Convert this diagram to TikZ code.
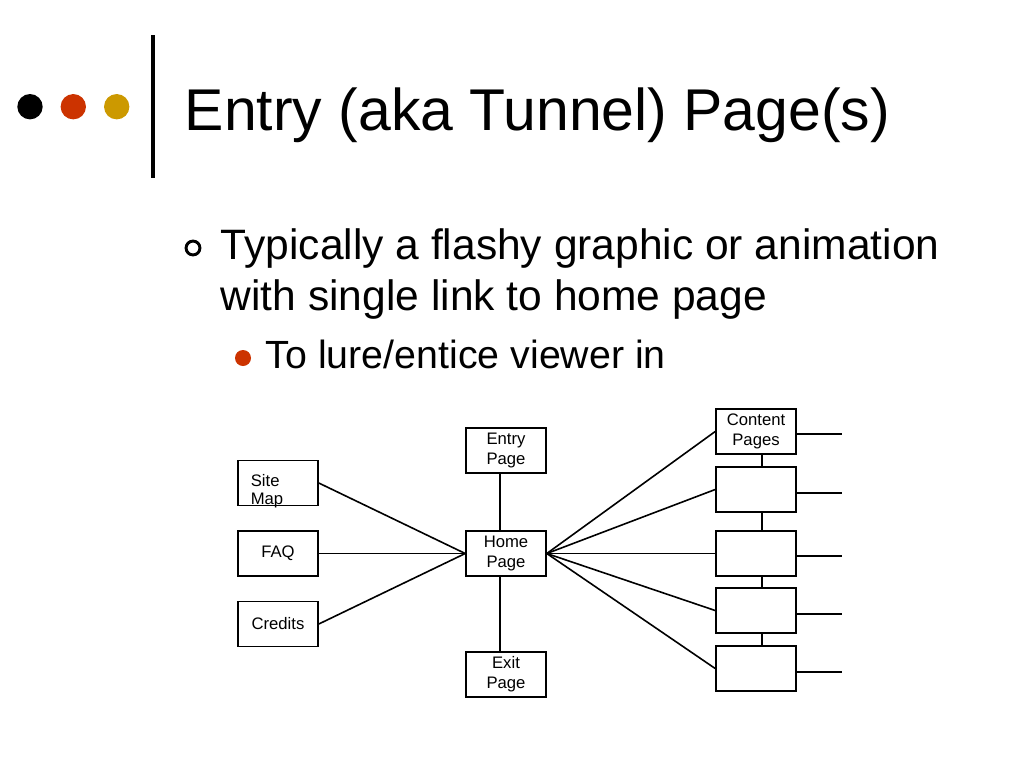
\documentclass[tikz,border=0pt]{standalone}
\usepackage{fontspec}
\setmainfont{Liberation Sans}
\usepackage{tikz}
\usepackage{xcolor}
\definecolor{dotred}{HTML}{CC3300}
\definecolor{dotgold}{HTML}{CC9900}

\begin{document}
\begin{tikzpicture}[x=0.75pt,y=-0.75pt,line width=1.2pt,
	pagebox/.style={rectangle,draw,minimum width=60pt,minimum height=33.75pt,inner sep=0pt,align=center,font=\fontsize{12.5}{15}\selectfont},
	boxtext/.style={inner sep=0pt,align=left,font=\fontsize{12.5}{13.5}\selectfont}]
	\useasboundingbox (0,0) rectangle (1024,768);
	\fill (30,106.7) circle (9.5pt);
	\fill [dotred] (73.3,106.7) circle (9.5pt);
	\fill [dotgold] (116.7,106.7) circle (9.5pt);
	\draw [line width=3pt] (153,35) -- (153,178);
	\node (title) at (184,130) [anchor=base west,inner sep=0pt,font=\fontsize{44.2}{52}\selectfont] {Entry (aka Tunnel) Page(s)};
	\draw [line width=2.2pt] (193,248) circle (5.2pt);
	\node (point) at (220,310) [anchor=base west,inner sep=0pt,align=left,font=\fontsize{31.9}{38.25}\selectfont] {Typically a flashy graphic or animation\\with single link to home page};
	\fill [dotred] (243,358) circle (6pt);
	\node (subpoint) at (265,368) [anchor=base west,inner sep=0pt,font=\fontsize{29.5}{34}\selectfont] {To lure/entice viewer in};
	\node (sitemap) at (278,483) [pagebox] {};
	\node (sitetext) at (250,504) [boxtext,anchor=base west] {Site\\Map};
	\node (faq) at (278,553.5) [pagebox] {FAQ};
	\node (credits) at (278,624) [pagebox] {Credits};
	\node (entry) at (506,450.5) [pagebox] {Entry\\Page};
	\node (home) at (506,553.5) [pagebox] {Home\\Page};
	\node (exitpg) at (506,674.5) [pagebox] {Exit\\Page};
	\node (content) at (756,431.5) [pagebox] {Content\\Pages};
	\node (cp2) at (756,489.5) [pagebox] {};
	\node (cp3) at (756,553.5) [pagebox] {};
	\node (cp4) at (756,610.5) [pagebox] {};
	\node (cp5) at (756,668.5) [pagebox] {};
	\coordinate (s1) at (842,434);
	\coordinate (s2) at (842,493);
	\coordinate (s3) at (842,556);
	\coordinate (s4) at (842,614);
	\coordinate (s5) at (842,672);
	\draw (sitemap.east) -- (home.west);
	\draw (faq.east) -- (home.west);
	\draw (credits.east) -- (home.west);
	\draw ([xshift=-4.5pt]entry.south) -- ([xshift=-4.5pt]home.north);
	\draw ([xshift=-4.5pt]home.south) -- ([xshift=-4.5pt]exitpg.north);
	\draw (home.east) -- (content.west);
	\draw (home.east) -- (cp2.west);
	\draw (home.east) -- (cp3.west);
	\draw (home.east) -- (cp4.west);
	\draw (home.east) -- (cp5.west);
	\draw ([xshift=4.5pt]content.south) -- ([xshift=4.5pt]cp2.north);
	\draw ([xshift=4.5pt]cp2.south) -- ([xshift=4.5pt]cp3.north);
	\draw ([xshift=4.5pt]cp3.south) -- ([xshift=4.5pt]cp4.north);
	\draw ([xshift=4.5pt]cp4.south) -- ([xshift=4.5pt]cp5.north);
	\draw (s1 -| content.east) -- (s1);
	\draw (s2 -| cp2.east) -- (s2);
	\draw (s3 -| cp3.east) -- (s3);
	\draw (s4 -| cp4.east) -- (s4);
	\draw (s5 -| cp5.east) -- (s5);
\end{tikzpicture}
\end{document}
